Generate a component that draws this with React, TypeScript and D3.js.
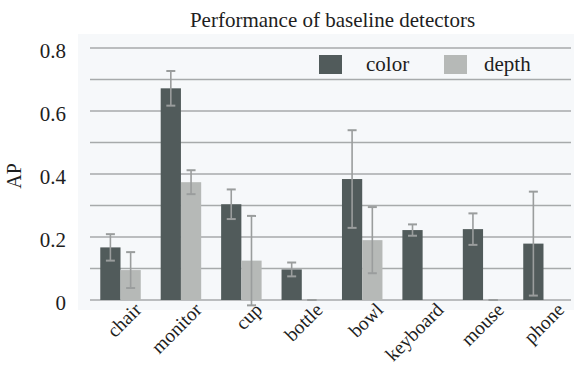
import React from "react";
import * as d3 from "d3";

const categories = ["chair", "monitor", "cup", "bottle", "bowl", "keyboard", "mouse", "phone"];
const colorValues = [0.167, 0.672, 0.304, 0.097, 0.384, 0.222, 0.225, 0.179];
const colorErrors = [0.042, 0.055, 0.047, 0.022, 0.155, 0.018, 0.05, 0.165];
const depthValues: (number | null)[] = [0.095, 0.374, 0.125, 0.0, 0.19, null, 0.0, null];
const depthErrors: (number | null)[] = [0.057, 0.038, 0.142, 0.0, 0.105, null, 0.0, null];
const seriesNames = ["color", "depth"];
const yTicks = [0, 0.2, 0.4, 0.6, 0.8];
const yGrid = [0, 0.1, 0.2, 0.3, 0.4, 0.5, 0.6, 0.7, 0.8];

const W = 574;
const H = 367;
const FONT = "Liberation Serif, Times New Roman, Times, serif";
const COLOR_DARK = "#515b5b";
const COLOR_LIGHT = "#b6b9b7";
const GRID = "#a7aaab";
const ERR = "#9a9d9d";

const txt = (size: number): React.CSSProperties => ({ fontFamily: FONT, fontSize: size, fill: "#1e1e1e" });

export default function App() {
  const x0 = d3.scaleBand<string>().domain(categories).range([90, 574]).paddingInner(0.33).paddingOuter(0.17);
  const x1 = d3.scaleBand<string>().domain(seriesNames).range([0, x0.bandwidth()]).padding(0);
  const y = d3.scaleLinear().domain([0, 0.8]).range([300, 48]);

  const series = [
    { name: "color", values: colorValues as (number | null)[], errors: colorErrors as (number | null)[], fill: COLOR_DARK },
    { name: "depth", values: depthValues, errors: depthErrors, fill: COLOR_LIGHT },
  ];

  return (
    <svg width={W} height={H} style={{ position: "absolute", left: 0, top: 0, background: "#ffffff" }}>
      <rect x={78} y={34} width={W - 78} height={276} fill="#f6f8fa" />
      <text x={332.5} y={27} textAnchor="middle" style={txt(21)}>
        Performance of baseline detectors
      </text>
      {yGrid.map((t) => (
        <line key={t} x1={90} x2={571} y1={y(t)} y2={y(t)} stroke={GRID} strokeWidth={1.6} />
      ))}
      {yTicks.map((t) => (
        <text key={t} x={66} y={y(t) + 9.5} textAnchor="end" style={txt(21)}>
          {t === 0 ? "0" : t.toFixed(1)}
        </text>
      ))}
      <text transform={`translate(20.5,176) rotate(-90)`} textAnchor="middle" style={txt(20)}>
        AP
      </text>
      {series.map((s) =>
        categories.map((c, i) => {
          const v = s.values[i];
          if (v === null) return null;
          const bx = (x0(c) as number) + (x1(s.name) as number);
          const bw = x1.bandwidth();
          return <rect key={s.name + c} x={bx} y={y(v)} width={bw} height={y(0) - y(v)} fill={s.fill} />;
        })
      )}
      {series.map((s) =>
        categories.map((c, i) => {
          const v = s.values[i];
          const e = s.errors[i];
          if (v === null || e === null) return null;
          const cx = (x0(c) as number) + (x1(s.name) as number) + x1.bandwidth() / 2;
          const top = y(v + e);
          const bot = y(v - e);
          return (
            <g key={"e" + s.name + c}>
              <line x1={cx} x2={cx} y1={top} y2={bot} stroke={ERR} strokeWidth={1.6} />
              <line x1={cx - 4.5} x2={cx + 4.5} y1={top} y2={top} stroke={ERR} strokeWidth={2} />
              <line x1={cx - 4.5} x2={cx + 4.5} y1={bot} y2={bot} stroke={ERR} strokeWidth={2} />
            </g>
          );
        })
      )}
      {categories.map((c) => {
        const cx = (x0(c) as number) + x0.bandwidth() / 2;
        return (
          <text
            key={"l" + c}
            transform={`translate(${cx + 22},${311}) rotate(-45)`}
            textAnchor="end"
            style={txt(19.5)}
          >
            {c}
          </text>
        );
      })}
      <rect x={319} y={55} width={23} height={19} fill={COLOR_DARK} />
      <text x={366} y={71} style={txt(21)}>color</text>
      <rect x={444} y={55} width={23} height={19} fill={COLOR_LIGHT} />
      <text x={484} y={71} style={txt(21)}>depth</text>
    </svg>
  );
}
